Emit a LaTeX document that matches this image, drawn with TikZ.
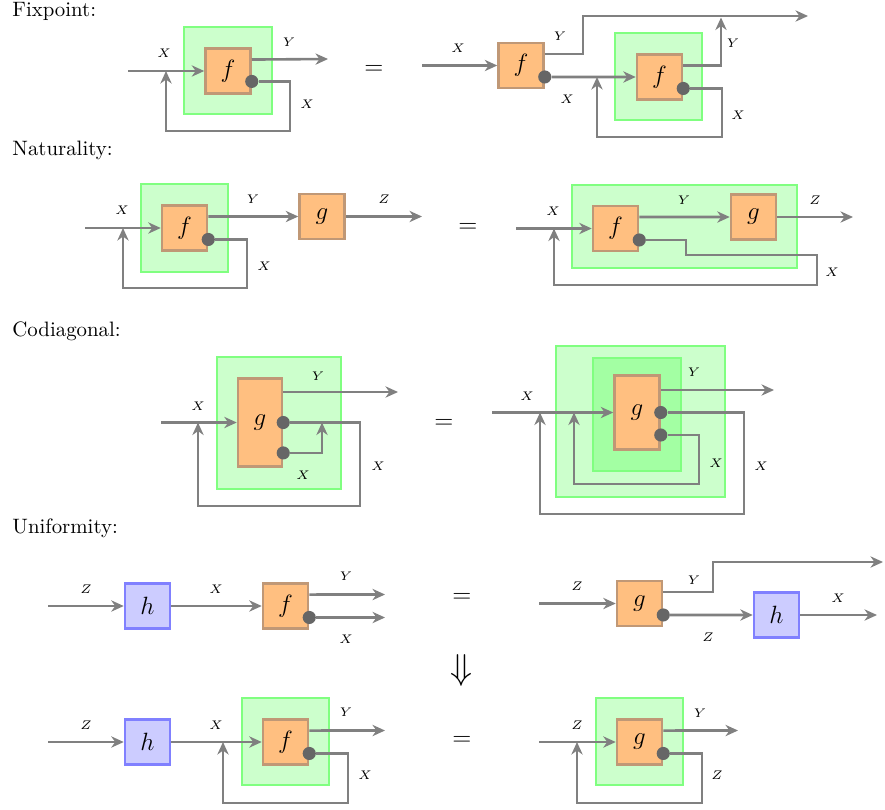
\documentclass[tikz,border=0pt]{standalone}
\usepackage{xcolor}
\usepackage{tikz}
\usetikzlibrary{arrows.meta}
\definecolor{boxedge}{RGB}{192,152,118}

\begin{document}
\begin{tikzpicture}[x=4.8pt, y=-4.8pt]
        \useasboundingbox (0,0) rectangle (88.5,80.9);
        \tikzstyle{region}=[fill=green!20, draw=green!50, line width=1pt]
        \tikzstyle{fun}=[draw=boxedge, fill=orange!50, line width=1.3pt, minimum size=21.5pt, inner sep=0pt, font=\fontsize{13}{15}\selectfont]
        \tikzstyle{mor}=[fun, draw=blue!50, fill=blue!20]
        \tikzstyle{port}=[circle, fill=black!60, inner sep=0pt, minimum size=6.3pt]
        \tikzstyle{lbl}=[font=\fontsize{6}{7}\selectfont]
        \tikzstyle{head}=[anchor=base west, inner sep=0pt]
        \tikzstyle{wire}=[draw=gray, line width=1.25pt, -{Stealth[length=6pt,width=5.4pt,inset=1.9pt]}]

        % Fixpoint
        \node[head] (hfix) at (1.2,1.6) {Fixpoint:};
        \fill[region] (18.4,2.7) rectangle (27.2,11.4);
        \node[fun] (f1) at (22.8,7.1) {$f$};
        \node[port] (d1) at ([yshift=-5pt]f1.east) {};
        \coordinate (in1) at (12.8,7.1);
        \coordinate (y1) at (32.8,5.9);
        \coordinate (j1) at (16.6,7.1);
        \draw[wire] (in1) -- (f1.west);
        \draw[wire] ([yshift=5.5pt]f1.east) -- (y1);
        \draw[wire] (d1.east) -| (29.0,13.1) -| (j1);
        \node[lbl] at (16.4,5.3) {$X$};
        \node[lbl] at (28.9,4.2) {$Y$};
        \node[lbl] at (30.7,10.4) {$X$};
        \node[font=\large] (eq1) at (37.4,7.0) {$=$};

        \fill[region] (61.5,3.3) rectangle (70.2,12.0);
        \node[fun] (f2) at (52.1,6.55) {$f$};
        \node[port] (d2) at ([yshift=-5.5pt]f2.east) {};
        \node[fun] (f3) at (65.95,7.7) {$f$};
        \node[port] (d3) at ([yshift=-5.5pt]f3.east) {};
        \coordinate (in2) at (42.2,6.55);
        \coordinate (y2) at (80.8,1.6);
        \coordinate (j3) at (72.1,1.75);
        \coordinate (j2) at (59.7,7.7);
        \draw[wire] (in2) -- (f2.west);
        \draw[wire] ([yshift=5.5pt]f2.east) -| (58.3,1.6) -- (y2);
        \draw[wire] (d2.east) -- (f3.west);
        \draw[wire] ([yshift=5.5pt]f3.east) -| (j3);
        \draw[wire] (d3.east) -| (72.2,13.7) -| (j2);
        \node[lbl] at (45.8,4.8) {$X$};
        \node[lbl] at (56.0,3.6) {$Y$};
        \node[lbl] at (56.7,9.9) {$X$};
        \node[lbl] at (73.3,4.3) {$Y$};
        \node[lbl] at (73.8,11.5) {$X$};

        % Naturality
        \node[head] (hnat) at (1.2,15.5) {Naturality:};
        \fill[region] (14.1,18.4) rectangle (22.8,27.2);
        \node[fun] (f4) at (18.45,22.8) {$f$};
        \node[port] (d4) at ([yshift=-5.5pt]f4.east) {};
        \node[fun] (g1) at (32.2,21.65) {$g$};
        \coordinate (in4) at (8.5,22.8);
        \coordinate (z1) at (42.2,21.65);
        \coordinate (j4) at (12.3,22.8);
        \draw[wire] (in4) -- (f4.west);
        \draw[wire] ([yshift=5.5pt]f4.east) -- (g1.west);
        \draw[wire] (g1.east) -- (z1);
        \draw[wire] (d4.east) -| (24.7,28.8) -| (j4);
        \node[lbl] at (12.2,21.0) {$X$};
        \node[lbl] at (25.3,19.9) {$Y$};
        \node[lbl] at (38.4,19.9) {$Z$};
        \node[lbl] at (26.4,26.6) {$X$};
        \node[font=\large] (eq2) at (46.8,22.8) {$=$};

        \fill[region] (57.2,18.5) rectangle (79.7,26.8);
        \node[fun] (f5) at (61.55,22.85) {$f$};
        \node[port] (d5) at ([yshift=-5.5pt]f5.east) {};
        \node[fun] (g2) at (75.35,21.7) {$g$};
        \coordinate (in5) at (51.6,22.85);
        \coordinate (z2) at (85.3,21.7);
        \coordinate (j5) at (55.4,22.85);
        \draw[wire] (in5) -- (f5.west);
        \draw[wire] ([yshift=5.5pt]f5.east) -- (g2.west);
        \draw[wire] (g2.east) -- (z2);
        \draw[wire] (d5.east) -| (68.6,25.5) -| (81.7,28.5) -| (j5);
        \node[lbl] at (55.3,21.1) {$X$};
        \node[lbl] at (68.4,20.0) {$Y$};
        \node[lbl] at (81.5,20.0) {$Z$};
        \node[lbl] at (83.2,27.2) {$X$};

        % Codiagonal
        \node[head] (hcod) at (1.2,33.6) {Codiagonal:};
        \fill[region] (21.7,35.7) rectangle (34.1,48.9);
        \node[fun, minimum width=21pt, minimum height=42.5pt] (g3) at (26.0,42.25) {$g$};
        \node[port] (d6) at (g3.east) {};
        \node[port] (d7) at ([yshift=-14.6pt]g3.east) {};
        \coordinate (in6) at (16.1,42.25);
        \coordinate (y3) at (39.8,39.2);
        \coordinate (j6) at (19.8,42.25);
        \coordinate (j7) at (32.2,42.25);
        \draw[wire] (in6) -- (g3.west);
        \draw[wire] (g3.east |- y3) -- (y3);
        \draw[wire] (d6.east) -| (36.0,50.6) -| (j6);
        \draw[wire] (d7.east) -| (j7);
        \node[lbl] at (19.8,40.6) {$X$};
        \node[lbl] at (31.8,37.6) {$Y$};
        \node[lbl] at (30.3,47.5) {$X$};
        \node[lbl] at (37.8,46.6) {$X$};
        \node[font=\large] (eq3) at (44.4,42.4) {$=$};

        \fill[region] (55.6,34.6) rectangle (72.5,49.7);
        \fill[region, fill=green!36] (59.3,35.8) rectangle (68.1,47.1);
        \node[fun, minimum height=35.8pt] (g4) at (63.7,41.25) {$g$};
        \node[port] (d8) at (g4.east) {};
        \node[port] (d9) at ([yshift=-10.8pt]g4.east) {};
        \coordinate (in7) at (49.2,41.25);
        \coordinate (y4) at (77.4,39.0);
        \coordinate (j8) at (54.0,41.25);
        \coordinate (j9) at (57.4,41.25);
        \draw[wire] (in7) -- (g4.west);
        \draw[wire] (g4.east |- y4) -- (y4);
        \draw[wire] (d8.east) -| (74.4,51.4) -| (j8);
        \draw[wire] (d9.east) -| (69.9,48.4) -| (j9);
        \node[lbl] at (52.7,39.6) {$X$};
        \node[lbl] at (69.4,37.2) {$Y$};
        \node[lbl] at (71.6,46.3) {$X$};
        \node[lbl] at (76.1,46.6) {$X$};

        % Uniformity
        \node[head] (huni) at (1.2,53.3) {Uniformity:};
        \node[mor] (h1) at (14.75,60.6) {$h$};
        \node[fun] (f6) at (28.55,60.6) {$f$};
        \node[port] (d10) at ([yshift=-5.5pt]f6.east) {};
        \coordinate (in8) at (4.8,60.6);
        \coordinate (y6) at (38.5,59.45);
        \coordinate (x6) at (38.5,61.75);
        \draw[wire] (in8) -- (h1.west);
        \draw[wire] (h1.east) -- (f6.west);
        \draw[wire] ([yshift=5.5pt]f6.east) -- (y6);
        \draw[wire] (d10.east) -- (x6);
        \node[lbl] at (8.6,58.9) {$Z$};
        \node[lbl] at (21.6,58.9) {$X$};
        \node[lbl] at (34.6,57.6) {$Y$};
        \node[lbl] at (34.6,63.9) {$X$};
        \node[font=\large] (eq4) at (46.2,59.8) {$=$};

        \node[fun] (g5) at (63.95,60.35) {$g$};
        \node[port] (d11) at ([yshift=-5.5pt]g5.east) {};
        \node[mor] (h2) at (77.65,61.5) {$h$};
        \coordinate (in9) at (53.9,60.35);
        \coordinate (y7) at (88.3,56.2);
        \coordinate (x7) at (87.7,61.5);
        \draw[wire] (in9) -- (g5.west);
        \draw[wire] ([yshift=5.5pt]g5.east) -| (71.3,56.2) -- (y7);
        \draw[wire] (d11.east) -- (h2.west);
        \draw[wire] (h2.east) -- (x7);
        \node[lbl] at (57.7,58.6) {$Z$};
        \node[lbl] at (69.4,58.0) {$Y$};
        \node[lbl] at (70.8,63.7) {$Z$};
        \node[lbl] at (83.8,59.8) {$X$};

        \node[font=\LARGE] (impl) at (46.1,67.0) {$\Downarrow$};

        \fill[region] (24.2,69.8) rectangle (32.9,78.5);
        \node[mor] (h3) at (14.75,74.2) {$h$};
        \node[fun] (f7) at (28.55,74.2) {$f$};
        \node[port] (d12) at ([yshift=-5.5pt]f7.east) {};
        \coordinate (in10) at (4.8,74.2);
        \coordinate (y8) at (38.5,73.05);
        \coordinate (j12) at (22.3,74.2);
        \draw[wire] (in10) -- (h3.west);
        \draw[wire] (h3.east) -- (f7.west);
        \draw[wire] ([yshift=5.5pt]f7.east) -- (y8);
        \draw[wire] (d12.east) -| (34.8,80.3) -| (j12);
        \node[lbl] at (8.6,72.5) {$Z$};
        \node[lbl] at (21.6,72.5) {$X$};
        \node[lbl] at (34.6,71.2) {$Y$};
        \node[lbl] at (36.5,77.5) {$X$};
        \node[font=\large] (eq5) at (46.2,74.1) {$=$};

        \fill[region] (59.6,69.8) rectangle (68.3,78.5);
        \node[fun] (g6) at (63.95,74.2) {$g$};
        \node[port] (d13) at ([yshift=-5.5pt]g6.east) {};
        \coordinate (in11) at (53.9,74.2);
        \coordinate (y9) at (73.8,73.05);
        \coordinate (j13) at (57.7,74.2);
        \draw[wire] (in11) -- (g6.west);
        \draw[wire] ([yshift=5.5pt]g6.east) -- (y9);
        \draw[wire] (d13.east) -| (70.2,80.3) -| (j13);
        \node[lbl] at (57.7,72.5) {$Z$};
        \node[lbl] at (70.0,71.3) {$Y$};
        \node[lbl] at (71.7,77.5) {$Z$};
    \end{tikzpicture}
\end{document}
